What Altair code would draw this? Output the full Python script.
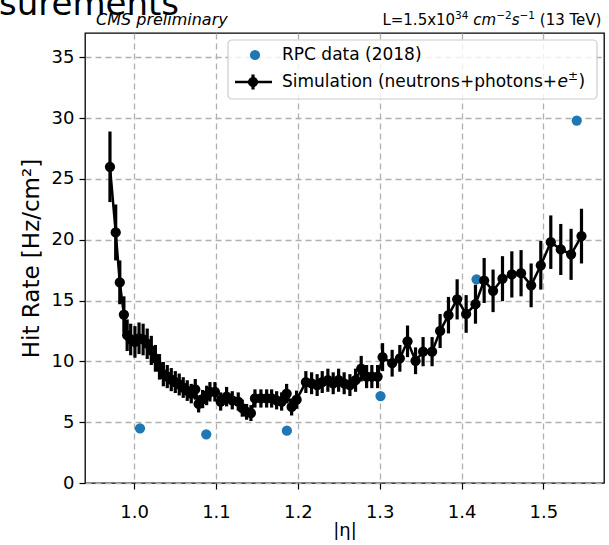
import altair as alt
import pandas as pd

# --- Simulation (neutrons+photons+e±) ---
sim_eta = [0.9705, 0.9775, 0.9825, 0.9875, 0.9915, 0.9958, 1.001, 1.006, 1.011, 1.016,
           1.021, 1.026, 1.031, 1.0357, 1.0405, 1.0454, 1.0503, 1.0551, 1.060, 1.0649,
           1.0698, 1.0747, 1.0788, 1.0837, 1.0886, 1.0926, 1.0987, 1.1057, 1.113, 1.1199,
           1.1272, 1.1321, 1.1374, 1.1427, 1.1476, 1.1549, 1.1619, 1.168, 1.1741, 1.1802,
           1.1863, 1.1924, 1.1985, 1.2098, 1.2168, 1.2236, 1.2298, 1.2367, 1.2432, 1.2498,
           1.2566, 1.2636, 1.2705, 1.2774, 1.284, 1.2904, 1.2974, 1.3035, 1.3152, 1.3246,
           1.334, 1.3438, 1.353, 1.364, 1.3738, 1.384, 1.3946, 1.4056, 1.417, 1.4276,
           1.4385, 1.450, 1.4614, 1.4727, 1.485, 1.4968, 1.509, 1.5212, 1.5338, 1.5465]
sim_rate = [26.0, 20.6, 16.5, 13.85, 12.15, 11.8, 11.6, 11.9, 11.8, 11.45,
            10.9, 10.25, 9.55, 8.95, 8.75, 8.5, 8.3, 8.1, 7.85, 7.6,
            7.35, 7.7, 6.5, 6.9, 7.2, 7.5, 7.5, 6.7, 7.1, 6.8,
            6.7, 6.15, 5.85, 5.75, 6.95, 6.95, 6.95, 6.95, 6.8, 6.7,
            7.35, 6.25, 6.85, 8.3, 8.2, 8.05, 8.3, 8.45, 8.2, 8.45,
            8.2, 8.05, 8.45, 9.4, 8.75, 8.75, 8.75, 10.35, 9.85, 10.25,
            11.65, 10.05, 10.8, 10.8, 12.5, 13.8, 15.1, 13.9, 14.7, 16.65,
            15.8, 16.8, 17.15, 17.25, 16.25, 17.9, 19.8, 19.2, 18.8, 20.3]
sim_err = [2.9, 2.3, 1.8, 1.5, 1.3, 1.3, 1.3, 1.3, 1.3, 1.25,
           1.2, 1.1, 1.05, 1.0, 0.95, 0.95, 0.9, 0.9, 0.85, 0.85,
           0.8, 0.85, 0.7, 0.75, 0.8, 0.8, 0.8, 0.75, 0.8, 0.75,
           0.75, 0.7, 0.65, 0.65, 0.75, 0.75, 0.75, 0.75, 0.75, 0.75,
           0.8, 0.7, 0.75, 0.9, 0.9, 0.9, 0.9, 0.95, 0.9, 0.95,
           0.9, 0.9, 0.95, 1.05, 0.95, 0.95, 0.95, 1.15, 1.1, 1.1,
           1.3, 1.1, 1.2, 1.2, 1.4, 1.5, 1.65, 1.55, 1.6, 1.85,
           1.75, 1.85, 1.9, 1.9, 1.8, 2.0, 2.2, 2.1, 2.1, 2.25]

# --- RPC data (2018) ---
rpc_eta = [1.0072, 1.0881, 1.1866, 1.301, 1.4183, 1.5407]
rpc_rate = [4.5, 4.0, 4.3, 7.15, 16.75, 29.8]

x_ticks = [1.0, 1.1, 1.2, 1.3, 1.4, 1.5]
y_ticks = [0, 5, 10, 15, 20, 25, 30, 35]

FONT = "DejaVu Sans"
BLUE = "#1f77b4"

sim = pd.DataFrame({"eta": sim_eta, "rate": sim_rate, "err": sim_err})
sim["lo"] = sim["rate"] - sim["err"]
sim["hi"] = sim["rate"] + sim["err"]
rpc = pd.DataFrame({"eta": rpc_eta, "rate": rpc_rate})

xscale = alt.Scale(domain=[0.94, 1.574], nice=False, zero=False)
yscale = alt.Scale(domain=[0, 37], nice=False)

xaxis = alt.Axis(values=x_ticks, format=".1f", title="|η|",
                 grid=True, gridColor="#b0b0b0", gridDash=[6, 4], gridWidth=1.3,
                 domain=False, ticks=True, tickColor="black", tickSize=6, tickWidth=1.2,
                 labelFont=FONT, labelFontSize=18, labelColor="black", labelPadding=14,
                 titleFont=FONT, titleFontSize=18, titleFontWeight="normal",
                 titleColor="black", titlePadding=0)
yaxis = alt.Axis(values=y_ticks, title="Hit Rate [Hz/cm²]",
                 grid=True, gridColor="#b0b0b0", gridDash=[6, 4], gridWidth=1.3,
                 domain=False, ticks=True, tickColor="black", tickSize=6, tickWidth=1.2,
                 labelFont=FONT, labelFontSize=18, labelColor="black", labelPadding=5,
                 titleFont=FONT, titleFontSize=23, titleFontWeight="normal",
                 titleColor="black", titlePadding=8)

rpc_pts = alt.Chart(rpc).mark_circle(color=BLUE, size=105, opacity=1).encode(
    x=alt.X("eta:Q", scale=xscale, axis=xaxis),
    y=alt.Y("rate:Q", scale=yscale, axis=yaxis),
)

bars = alt.Chart(sim).mark_rule(color="black", strokeWidth=3.2).encode(
    x=alt.X("eta:Q", scale=xscale),
    y=alt.Y("lo:Q", scale=yscale),
    y2="hi:Q",
)
line = alt.Chart(sim).mark_line(color="black", strokeWidth=2.5).encode(
    x=alt.X("eta:Q", scale=xscale),
    y=alt.Y("rate:Q", scale=yscale),
)
pts = alt.Chart(sim).mark_circle(color="black", size=105, opacity=1).encode(
    x=alt.X("eta:Q", scale=xscale),
    y=alt.Y("rate:Q", scale=yscale),
)

def txt(s, x, y, size, **kw):
    return alt.Chart(pd.DataFrame({"t": [s]})).mark_text(
        font=FONT, fontSize=size, color="black", **kw
    ).encode(text="t:N", x=alt.value(x), y=alt.value(y))

one = pd.DataFrame({"a": [0]})

# legend box
leg_box = alt.Chart(one).mark_rect(fill="white", fillOpacity=0.8, stroke="#cccccc",
                                   strokeWidth=1.2, cornerRadius=4).encode(
    x=alt.value(143), x2=alt.value(512), y=alt.value(7), y2=alt.value(66))
leg_blue = alt.Chart(one).mark_circle(color=BLUE, size=105, opacity=1).encode(
    x=alt.value(170), y=alt.value(22))
leg_line = alt.Chart(one).mark_rule(color="black", strokeWidth=2.5).encode(
    x=alt.value(150), x2=alt.value(187), y=alt.value(49))
leg_err = alt.Chart(one).mark_rule(color="black", strokeWidth=3.2).encode(
    x=alt.value(168), y=alt.value(41.5), y2=alt.value(56.5))
leg_dot = alt.Chart(one).mark_circle(color="black", size=105, opacity=1).encode(
    x=alt.value(168), y=alt.value(49))
LEG = dict(align="left", baseline="middle")
leg_t1 = txt("RPC data (2018)", 197, 22, 17, **LEG)
leg_t2a = txt("Simulation (neutrons+photons+", 197, 49, 17, **LEG)
leg_t2b = txt("e", 472.5, 49, 17, fontStyle="italic", **LEG)
leg_t2c = txt("±", 483, 43, 12, **LEG)
leg_t2d = txt(")", 493.5, 49, 17, **LEG)

# header texts
cms = txt("CMS preliminary", 11, -8, 16, align="left", baseline="alphabetic", fontStyle="italic")
HB = dict(align="left", baseline="alphabetic")
l1 = txt("L=1.5x10", 297.4, -8, 15, **HB)
l2 = txt("34", 370.1, -14, 10.5, **HB)
l3 = txt("cm", 388.3, -8, 15, fontStyle="italic", **HB)
l4 = txt("−2", 411.2, -14, 10.5, **HB)
l5 = txt("s", 426.7, -8, 15, fontStyle="italic", **HB)
l6 = txt("−1", 434.5, -14, 10.5, **HB)
l7 = txt("(13 TeV)", 454.8, -8, 15, **HB)
big = txt("surements", -86, -18, 34, align="left", baseline="alphabetic")

chart = alt.layer(
    rpc_pts, bars, line, pts,
    leg_box, leg_blue, leg_line, leg_err, leg_dot,
    leg_t1, leg_t2a, leg_t2b, leg_t2c, leg_t2d,
    cms, l1, l2, l3, l4, l5, l6, l7, big,
).properties(
    width=519, height=450,
    autosize=alt.AutoSizeParams(type="none"),
    padding={"left": 85, "top": 33, "right": 5, "bottom": 62},
    background="white",
).configure_view(stroke="black", strokeWidth=1.3)

chart.save("out.html", embed_options={"renderer": "svg", "actions": False})
